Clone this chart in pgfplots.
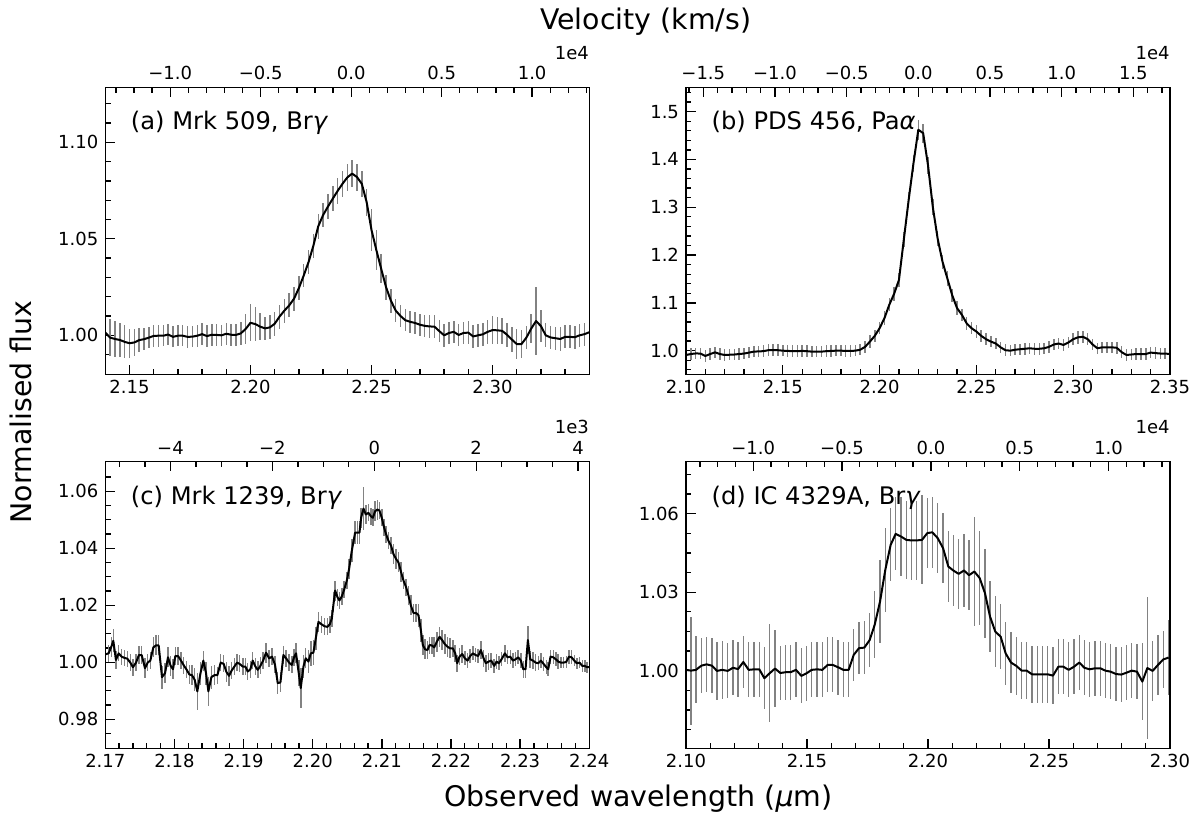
\documentclass[border=0pt]{standalone}
\usepackage{fontspec}
\setmainfont{DejaVu Sans}
\usepackage{pgfplots}
\pgfplotsset{compat=1.18}
\usepackage{pgfplotstable}
\definecolor{errgray}{RGB}{130,130,130}

\pgfplotstableread{
x y e
2.140 1.0014 0.0097
2.142 0.9988 0.0095
2.144 0.9981 0.0093
2.146 0.9976 0.0090
2.148 0.9966 0.0085
2.150 0.9959 0.0075
2.152 0.9963 0.0068
2.154 0.9975 0.0062
2.156 0.9980 0.0058
2.158 0.9988 0.0056
2.160 0.9997 0.0055
2.162 0.9998 0.0056
2.164 0.9998 0.0055
2.166 1.0004 0.0056
2.168 0.9992 0.0055
2.170 0.9998 0.0055
2.172 0.9998 0.0055
2.174 0.9992 0.0056
2.176 0.9993 0.0055
2.178 0.9998 0.0056
2.180 1.0006 0.0058
2.182 0.9996 0.0055
2.184 1.0003 0.0056
2.186 1.0002 0.0056
2.188 1.0000 0.0055
2.190 1.0008 0.0058
2.192 1.0003 0.0058
2.194 1.0002 0.0058
2.196 1.0010 0.0060
2.198 1.0033 0.0080
2.200 1.0065 0.0095
2.202 1.0058 0.0090
2.204 1.0045 0.0070
2.206 1.0036 0.0060
2.208 1.0041 0.0062
2.210 1.0060 0.0062
2.212 1.0097 0.0062
2.214 1.0128 0.0062
2.216 1.0155 0.0062
2.218 1.0190 0.0062
2.220 1.0245 0.0062
2.222 1.0310 0.0062
2.224 1.0380 0.0062
2.226 1.0465 0.0062
2.228 1.0565 0.0064
2.230 1.0623 0.0064
2.232 1.0667 0.0064
2.234 1.0708 0.0065
2.236 1.0748 0.0066
2.238 1.0785 0.0068
2.240 1.0818 0.0070
2.242 1.0838 0.0070
2.244 1.0820 0.0070
2.246 1.0785 0.0068
2.248 1.0690 0.0070
2.250 1.0546 0.0110
2.252 1.0442 0.0105
2.254 1.0345 0.0075
2.256 1.0250 0.0065
2.258 1.0180 0.0062
2.260 1.0128 0.0060
2.262 1.0100 0.0058
2.264 1.0078 0.0058
2.266 1.0070 0.0058
2.268 1.0064 0.0058
2.270 1.0055 0.0058
2.272 1.0049 0.0058
2.274 1.0046 0.0058
2.276 1.0045 0.0058
2.278 1.0022 0.0058
2.280 1.0000 0.0058
2.282 1.0012 0.0058
2.284 1.0018 0.0058
2.286 1.0002 0.0058
2.288 1.0012 0.0058
2.290 1.0014 0.0058
2.292 0.9994 0.0060
2.294 1.0000 0.0060
2.296 1.0005 0.0060
2.298 1.0018 0.0062
2.300 1.0027 0.0072
2.302 1.0026 0.0070
2.304 1.0023 0.0068
2.306 1.0003 0.0062
2.308 0.9978 0.0065
2.310 0.9955 0.0078
2.312 0.9955 0.0070
2.314 0.9988 0.0060
2.316 1.0035 0.0075
2.318 1.0074 0.0177
2.320 1.0048 0.0085
2.322 1.0000 0.0062
2.324 0.9989 0.0060
2.326 0.9985 0.0060
2.328 0.9981 0.0060
2.330 0.9992 0.0060
2.332 0.9992 0.0060
2.334 0.9990 0.0060
2.336 1.0000 0.0060
2.338 1.0006 0.0060
2.340 1.0016 0.0060
}\dataA

\pgfplotstableread{
x y e
2.1000 0.9910 0.012
2.1025 0.9930 0.012
2.1050 0.9942 0.012
2.1075 0.9940 0.012
2.1100 0.9890 0.012
2.1125 0.9930 0.012
2.1150 0.9965 0.012
2.1175 0.9930 0.012
2.1200 0.9910 0.012
2.1225 0.9915 0.012
2.1250 0.9920 0.012
2.1275 0.9930 0.012
2.1300 0.9940 0.012
2.1325 0.9960 0.012
2.1350 0.9980 0.012
2.1375 0.9985 0.012
2.1400 0.9990 0.012
2.1425 1.0010 0.012
2.1450 1.0014 0.012
2.1475 1.0010 0.012
2.1500 1.0000 0.012
2.1525 0.9995 0.012
2.1550 0.9990 0.012
2.1575 0.9990 0.012
2.1600 0.9995 0.012
2.1625 0.9990 0.012
2.1650 0.9980 0.012
2.1675 0.9980 0.012
2.1700 0.9980 0.012
2.1725 0.9990 0.012
2.1750 0.9995 0.012
2.1775 1.0000 0.012
2.1800 1.0000 0.012
2.1825 0.9995 0.012
2.1850 0.9995 0.012
2.1875 1.0000 0.012
2.1900 1.0020 0.012
2.1925 1.0080 0.012
2.1950 1.0190 0.013
2.1975 1.0310 0.013
2.2000 1.0470 0.013
2.2025 1.0680 0.014
2.2050 1.0960 0.014
2.2075 1.1190 0.015
2.2100 1.1480 0.015
2.2125 1.2320 0.016
2.2150 1.3150 0.017
2.2175 1.3920 0.018
2.2200 1.4620 0.021
2.2225 1.4550 0.020
2.2250 1.3880 0.018
2.2275 1.3000 0.017
2.2300 1.2340 0.016
2.2325 1.1860 0.015
2.2350 1.1510 0.015
2.2375 1.1160 0.014
2.2400 1.0890 0.014
2.2425 1.0750 0.013
2.2450 1.0570 0.013
2.2475 1.0470 0.013
2.2500 1.0400 0.013
2.2525 1.0310 0.012
2.2550 1.0240 0.012
2.2575 1.0190 0.012
2.2600 1.0150 0.012
2.2625 1.0070 0.012
2.2650 1.0010 0.012
2.2675 1.0000 0.012
2.2700 1.0020 0.012
2.2725 1.0030 0.012
2.2750 1.0040 0.012
2.2775 1.0050 0.012
2.2800 1.0040 0.012
2.2825 1.0040 0.012
2.2850 1.0050 0.012
2.2875 1.0080 0.012
2.2900 1.0130 0.012
2.2925 1.0150 0.012
2.2950 1.0120 0.012
2.2975 1.0170 0.012
2.3000 1.0240 0.012
2.3025 1.0280 0.013
2.3050 1.0290 0.013
2.3075 1.0240 0.012
2.3100 1.0130 0.012
2.3125 1.0050 0.012
2.3150 1.0070 0.012
2.3175 1.0070 0.012
2.3200 1.0070 0.012
2.3225 1.0060 0.012
2.3250 0.9970 0.012
2.3275 0.9910 0.012
2.3300 0.9920 0.012
2.3325 0.9930 0.012
2.3350 0.9930 0.012
2.3375 0.9930 0.012
2.3400 0.9960 0.012
2.3425 0.9950 0.012
2.3450 0.9940 0.012
2.3475 0.9940 0.012
2.3500 0.9930 0.012
}\dataB

\pgfplotstableread{
x y e
2.17000 1.00279 0.0030
2.17048 1.00313 0.0030
2.17087 1.00545 0.0035
2.17116 1.00754 0.0040
2.17154 1.00081 0.0030
2.17193 1.00313 0.0028
2.17236 1.00197 0.0028
2.17280 1.00151 0.0028
2.17318 1.00128 0.0028
2.17362 0.99988 0.0030
2.17400 0.99826 0.0030
2.17444 0.99988 0.0030
2.17487 1.00255 0.0030
2.17526 1.00255 0.0030
2.17574 0.99791 0.0035
2.17613 0.99988 0.0030
2.17651 1.00058 0.0030
2.17695 1.00522 0.0035
2.17733 1.00592 0.0035
2.17772 1.00592 0.0035
2.17820 0.99478 0.0040
2.17864 0.99617 0.0035
2.17907 1.00174 0.0035
2.17946 0.99872 0.0035
2.17979 0.99756 0.0035
2.18013 1.00220 0.0030
2.18052 1.00220 0.0030
2.18095 1.00058 0.0030
2.18134 0.99896 0.0030
2.18172 0.99756 0.0030
2.18216 0.99571 0.0035
2.18254 0.99547 0.0035
2.18293 0.99385 0.0040
2.18331 0.98979 0.0065
2.18375 0.99594 0.0040
2.18418 1.00058 0.0035
2.18457 0.99617 0.0040
2.18491 0.98979 0.0050
2.18534 0.99478 0.0040
2.18577 0.99547 0.0035
2.18621 0.99547 0.0030
2.18669 0.99988 0.0030
2.18713 0.99942 0.0030
2.18751 0.99663 0.0035
2.18790 0.99524 0.0035
2.18828 0.99710 0.0030
2.18867 0.99849 0.0030
2.18906 0.99988 0.0030
2.18944 0.99942 0.0030
2.18988 0.99849 0.0030
2.19026 0.99849 0.0030
2.19060 0.99675 0.0030
2.19099 0.99756 0.0030
2.19132 1.00058 0.0030
2.19171 0.99849 0.0030
2.19205 0.99733 0.0030
2.19243 0.99872 0.0030
2.19282 1.00058 0.0030
2.19325 1.00337 0.0035
2.19369 1.00139 0.0030
2.19412 1.00197 0.0030
2.19455 0.99907 0.0030
2.19494 0.99269 0.0040
2.19533 0.99292 0.0035
2.19576 1.00255 0.0030
2.19615 1.00139 0.0030
2.19658 0.99988 0.0030
2.19697 0.99907 0.0030
2.19730 1.00174 0.0030
2.19759 1.00313 0.0035
2.19798 0.99617 0.0045
2.19827 0.99095 0.0070
2.19866 0.99849 0.0040
2.19899 1.00139 0.0035
2.19938 1.00023 0.0040
2.19972 1.00313 0.0045
2.20010 1.00337 0.0045
2.20044 1.00836 0.0040
2.20083 1.01416 0.0035
2.20126 1.01335 0.0030
2.20169 1.01265 0.0030
2.20213 1.01242 0.0030
2.20247 1.01335 0.0030
2.20276 1.01532 0.0030
2.20304 1.02112 0.0035
2.20324 1.02518 0.0035
2.20358 1.02286 0.0030
2.20387 1.02170 0.0030
2.20420 1.02309 0.0030
2.20454 1.02542 0.0030
2.20493 1.02866 0.0030
2.20526 1.03273 0.0035
2.20565 1.03911 0.0040
2.20613 1.04549 0.0040
2.20647 1.04549 0.0040
2.20676 1.04549 0.0040
2.20700 1.05071 0.0035
2.20734 1.05396 0.0075
2.20768 1.05187 0.0035
2.20806 1.05245 0.0030
2.20840 1.05129 0.0030
2.20869 1.05071 0.0030
2.20903 1.05303 0.0035
2.20936 1.05361 0.0035
2.20965 1.05327 0.0030
2.20999 1.05071 0.0030
2.21033 1.04723 0.0030
2.21062 1.04491 0.0030
2.21096 1.04259 0.0030
2.21134 1.04085 0.0030
2.21168 1.03795 0.0035
2.21207 1.03621 0.0035
2.21240 1.03505 0.0035
2.21279 1.03157 0.0035
2.21313 1.02866 0.0030
2.21351 1.02634 0.0030
2.21385 1.02344 0.0035
2.21419 1.01996 0.0035
2.21458 1.01729 0.0030
2.21496 1.01729 0.0030
2.21530 1.01648 0.0040
2.21564 1.01126 0.0040
2.21593 1.00603 0.0035
2.21626 1.00453 0.0035
2.21660 1.00429 0.0030
2.21689 1.00603 0.0030
2.21723 1.00592 0.0030
2.21757 1.00522 0.0035
2.21795 1.00720 0.0035
2.21834 1.00894 0.0035
2.21872 1.00778 0.0035
2.21911 1.00638 0.0035
2.21950 1.00545 0.0035
2.21988 1.00487 0.0035
2.22027 1.00487 0.0030
2.22061 1.00313 0.0030
2.22090 0.99965 0.0030
2.22123 1.00197 0.0030
2.22162 1.00290 0.0030
2.22200 1.00139 0.0025
2.22239 1.00058 0.0025
2.22278 1.00220 0.0025
2.22316 1.00313 0.0025
2.22355 1.00255 0.0025
2.22393 1.00220 0.0025
2.22432 1.00429 0.0030
2.22471 1.00139 0.0030
2.22504 0.99965 0.0030
2.22543 1.00023 0.0030
2.22582 1.00058 0.0025
2.22625 0.99872 0.0025
2.22659 1.00023 0.0025
2.22692 0.99965 0.0025
2.22731 1.00104 0.0025
2.22779 1.00313 0.0030
2.22818 1.00174 0.0025
2.22857 1.00197 0.0025
2.22895 1.00058 0.0025
2.22934 1.00104 0.0025
2.22972 1.00174 0.0025
2.23011 1.00058 0.0025
2.23045 0.99756 0.0030
2.23078 0.99756 0.0030
2.23112 1.00778 0.0050
2.23146 1.00104 0.0030
2.23185 1.00058 0.0030
2.23223 0.99988 0.0030
2.23262 0.99965 0.0025
2.23300 1.00058 0.0025
2.23339 0.99942 0.0025
2.23378 0.99826 0.0025
2.23406 0.99756 0.0025
2.23440 1.00197 0.0025
2.23479 1.00174 0.0025
2.23517 1.00104 0.0025
2.23551 1.00023 0.0025
2.23590 0.99988 0.0020
2.23628 0.99988 0.0020
2.23667 1.00012 0.0020
2.23706 1.00197 0.0025
2.23744 1.00174 0.0025
2.23783 1.00058 0.0020
2.23821 0.99965 0.0020
2.23860 0.99988 0.0020
2.23899 0.99872 0.0020
2.23937 0.99872 0.0020
2.23966 0.99826 0.0020
2.24000 0.99826 0.0020
}\dataC

\pgfplotstableread{
x y e
2.10000 1.0003 0.0050
2.10207 1.0000 0.0207
2.10413 1.0003 0.0128
2.10634 1.0019 0.0105
2.10854 1.0024 0.0105
2.11074 1.0019 0.0105
2.11281 0.9999 0.0110
2.11501 1.0003 0.0110
2.11722 0.9999 0.0105
2.11942 1.0011 0.0105
2.12149 1.0006 0.0105
2.12369 1.0033 0.0100
2.12590 1.0003 0.0105
2.12810 1.0005 0.0105
2.13030 1.0005 0.0105
2.13237 0.9971 0.0118
2.13457 0.9990 0.0188
2.13678 1.0008 0.0147
2.13898 0.9991 0.0105
2.14118 0.9994 0.0105
2.14325 0.9994 0.0105
2.14545 1.0003 0.0105
2.14766 0.9980 0.0105
2.14986 0.9990 0.0105
2.15193 1.0003 0.0105
2.15413 1.0005 0.0105
2.15634 1.0003 0.0105
2.15854 1.0022 0.0105
2.16061 1.0022 0.0105
2.16281 1.0013 0.0105
2.16501 1.0003 0.0105
2.16722 1.0003 0.0105
2.16928 1.0060 0.0100
2.17149 1.0086 0.0100
2.17369 1.0088 0.0100
2.17590 1.0117 0.0102
2.17796 1.0175 0.0128
2.18017 1.0264 0.0160
2.18237 1.0386 0.0160
2.18457 1.0481 0.0140
2.18664 1.0523 0.0140
2.18884 1.0513 0.0150
2.19105 1.0500 0.0150
2.19311 1.0498 0.0150
2.19532 1.0498 0.0150
2.19752 1.0500 0.0170
2.19972 1.0526 0.0135
2.20179 1.0529 0.0135
2.20399 1.0507 0.0135
2.20620 1.0469 0.0135
2.20840 1.0398 0.0135
2.21047 1.0383 0.0135
2.21267 1.0370 0.0135
2.21488 1.0383 0.0140
2.21694 1.0365 0.0135
2.21915 1.0379 0.0210
2.22135 1.0354 0.0180
2.22355 1.0296 0.0170
2.22562 1.0207 0.0135
2.22782 1.0149 0.0135
2.23003 1.0130 0.0125
2.23209 1.0066 0.0120
2.23430 1.0031 0.0115
2.23650 1.0018 0.0110
2.23871 1.0000 0.0110
2.24077 1.0000 0.0110
2.24298 0.9986 0.0110
2.24518 0.9986 0.0110
2.24738 0.9986 0.0110
2.24945 0.9986 0.0110
2.25165 0.9981 0.0110
2.25386 1.0015 0.0105
2.25592 1.0015 0.0105
2.25813 1.0003 0.0105
2.26033 1.0015 0.0105
2.26253 1.0031 0.0105
2.26460 1.0011 0.0105
2.26680 1.0005 0.0105
2.26901 1.0009 0.0105
2.27121 1.0009 0.0105
2.27328 1.0000 0.0105
2.27548 0.9996 0.0105
2.27769 0.9987 0.0105
2.27989 0.9985 0.0105
2.28196 0.9992 0.0105
2.28416 1.0000 0.0105
2.28636 0.9996 0.0105
2.28857 0.9958 0.0147
2.29063 1.0010 0.0270
2.29284 0.9999 0.0115
2.29504 1.0022 0.0115
2.29725 1.0043 0.0108
2.29945 1.0050 0.0145
}\dataD

\pgfplotsset{
  basepanel/.style={
    scale only axis, width=242pt, height=143.3pt, anchor=south west,
    axis line style={line width=0.65pt},
    tick align=inside,
    major tick length=4.8pt, minor tick length=2.7pt,
    every tick/.style={black, line width=0.65pt},
    tick label style={font=\fontsize{9}{11}\selectfont, text=black},
    /pgf/number format/assume math mode=true,
    scaled ticks=false,
  },
  panel/.style={
    basepanel, xtick pos=left, ytick pos=left,
    xticklabel style={anchor=base, yshift=-9.6pt,
      /pgf/number format/fixed, /pgf/number format/fixed zerofill,
      /pgf/number format/precision=2},
    yticklabel style={/pgf/number format/fixed,
      /pgf/number format/fixed zerofill, /pgf/number format/precision=2},
  },
  vel/.style={
    basepanel, xtick pos=right, xticklabel pos=right,
    ymin=0, ymax=1, ytick=\empty, minor ytick=\empty, clip=false,
    xticklabel style={anchor=base, yshift=3.85pt},
  },
  errbars/.style={forget plot, draw=errgray, line width=0.2pt, mark=none,
    error bars/.cd, y dir=both, y explicit, error mark=none,
    error bar style={draw=errgray, line width=0.75pt}},
  spec/.style={black, line width=1pt, mark=none, line join=round},
}
\tikzset{
  plabel/.style={anchor=base west, inner sep=0pt, xshift=12.6pt, yshift=-21.15pt,
    font=\fontsize{12.1}{14}\selectfont},
  offl/.style={anchor=base east, inner sep=0pt, yshift=14.3pt,
    font=\fontsize{9}{11}\selectfont},
}

\begin{document}
\begin{tikzpicture}
\useasboundingbox (0,0) rectangle (600pt,410.5pt);

% ---------- (a) ----------
\begin{axis}[panel, at={(52.65pt,223.35pt)},
  xmin=2.14, xmax=2.34, ymin=0.9798, ymax=1.1283,
  xtick={2.15,2.20,2.25,2.30}, minor xtick={2.14,2.15,...,2.345},
  ytick={1.00,1.05,1.10}, minor ytick={0.99,1.00,...,1.125}]
\addplot[errbars] table[x=x,y=y,y error=e]{\dataA};
\addplot[spec] table[x=x,y=y]{\dataA};
\node[plabel] at (rel axis cs:0,1) {(a) Mrk 509, Br\textit{γ}};
\end{axis}
\begin{axis}[vel, at={(52.65pt,223.35pt)},
  xmin=-1.3588, xmax=1.3160,
  xtick={-1,-0.5,0,0.5,1}, xticklabels={−1.0,−0.5,0.0,0.5,1.0},
  minor xtick={-1.3,-1.2,...,1.35}]
\node[offl] at (rel axis cs:1,1) {1e4};
\end{axis}

% ---------- (b) ----------
\begin{axis}[panel, at={(343pt,223.35pt)},
  xmin=2.10, xmax=2.35, ymin=0.9506, ymax=1.550,
  xtick={2.10,2.15,...,2.36}, minor xtick={2.10,2.11,...,2.355},
  ytick={1.0,1.1,...,1.55}, minor ytick={0.96,0.98,...,1.545},
  yticklabel style={/pgf/number format/precision=1}]
\addplot[errbars] table[x=x,y=y,y error=e]{\dataB};
\addplot[spec] table[x=x,y=y]{\dataB};
\node[plabel] at (rel axis cs:0,1) {(b) PDS 456, Pa\textit{α}};
\end{axis}
\begin{axis}[vel, at={(343pt,223.35pt)},
  xmin=-1.6205, xmax=1.7556,
  xtick={-1.5,-1,-0.5,0,0.5,1,1.5}, xticklabels={−1.5,−1.0,−0.5,0.0,0.5,1.0,1.5},
  minor xtick={-1.6,-1.5,...,1.75}]
\node[offl] at (rel axis cs:1,1) {1e4};
\end{axis}

% ---------- (c) ----------
\begin{axis}[panel, at={(52.65pt,36.35pt)},
  xmin=2.17, xmax=2.24, ymin=0.9698, ymax=1.0704,
  xtick={2.17,2.18,...,2.245}, minor xtick={2.17,2.172,...,2.2405},
  ytick={0.98,1.00,...,1.065}, minor ytick={0.975,0.980,...,1.0655}]
\addplot[errbars] table[x=x,y=y,y error=e]{\dataC};
\addplot[spec] table[x=x,y=y]{\dataC};
\node[plabel] at (rel axis cs:0,1) {(c) Mrk 1239, Br\textit{γ}};
\end{axis}
\begin{axis}[vel, at={(52.65pt,36.35pt)},
  xmin=-5.280, xmax=4.221,
  xtick={-4,-2,0,2,4}, xticklabels={−4,−2,0,2,4},
  minor xtick={-5,-4.5,...,4.1}]
\node[offl] at (rel axis cs:1,1) {1e3};
\end{axis}

% ---------- (d) ----------
\begin{axis}[panel, at={(343pt,36.35pt)},
  xmin=2.10, xmax=2.30, ymin=0.9703, ymax=1.0799,
  xtick={2.10,2.15,...,2.31}, minor xtick={2.10,2.11,...,2.305},
  ytick={1.00,1.03,1.06}, minor ytick={0.9775,0.985,...,1.0765}]
\addplot[errbars] table[x=x,y=y,y error=e]{\dataD};
\addplot[spec] table[x=x,y=y]{\dataD};
\node[plabel] at (rel axis cs:0,1) {(d) IC 4329A, Br\textit{γ}};
\end{axis}
\begin{axis}[vel, at={(343pt,36.35pt)},
  xmin=-1.3783, xmax=1.3456,
  xtick={-1,-0.5,0,0.5,1}, xticklabels={−1.0,−0.5,0.0,0.5,1.0},
  minor xtick={-1.3,-1.2,...,1.35}]
\node[offl] at (rel axis cs:1,1) {1e4};
\end{axis}

% ---------- figure labels ----------
\node[anchor=base, inner sep=0pt, font=\fontsize{14.2}{17}\selectfont] at (322.9pt,395.85pt) {Velocity (km/s)};
\node[anchor=base, inner sep=0pt, font=\fontsize{14.2}{17}\selectfont] at (319.2pt,7.2pt) {Observed wavelength (\textit{μ}m)};
\node[anchor=base, inner sep=0pt, rotate=90, font=\fontsize{14.2}{17}\selectfont] at (15.85pt,204.5pt) {Normalised flux};
\end{tikzpicture}
\end{document}
